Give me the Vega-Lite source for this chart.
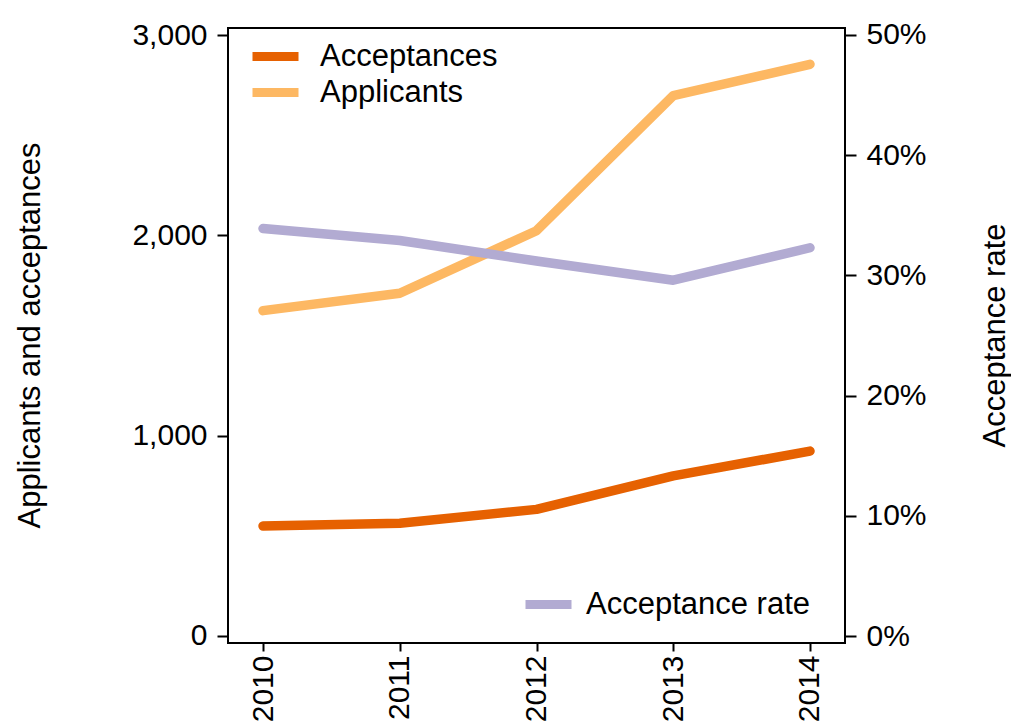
{
  "$schema": "https://vega.github.io/schema/vega-lite/v6.json",
  "autosize": "none",
  "width": 617,
  "height": 615,
  "padding": {"left": 228, "top": 28, "right": 166, "bottom": 82},
  "background": "white",
  "config": {
    "font": "Liberation Sans",
    "view": {"stroke": "black", "strokeWidth": 2},
    "axis": {
      "grid": false,
      "domain": false,
      "tickColor": "black",
      "tickWidth": 2,
      "labelColor": "black",
      "titleColor": "black",
      "labelFont": "Liberation Sans",
      "titleFont": "Liberation Sans",
      "labelFontSize": 30,
      "titleFontSize": 31,
      "titleFontWeight": "normal"
    },
    "legend": {
      "labelFont": "Liberation Sans",
      "labelFontSize": 31,
      "labelColor": "black",
      "labelLimit": 400,
      "symbolType": "stroke",
      "symbolSize": 2116,
      "symbolStrokeWidth": 9,
      "labelOffset": 13,
      "padding": 0
    }
  },
  "data": {
    "values": [
      {"year": "2010", "acceptances": 549, "applicants": 1624, "rate": 0.339},
      {"year": "2011", "acceptances": 563, "applicants": 1711, "rate": 0.329},
      {"year": "2012", "acceptances": 632, "applicants": 2023, "rate": 0.312},
      {"year": "2013", "acceptances": 799, "applicants": 2697, "rate": 0.296},
      {"year": "2014", "acceptances": 923, "applicants": 2854, "rate": 0.323}
    ]
  },
  "encoding": {
    "x": {
      "field": "year",
      "type": "ordinal",
      "scale": {"type": "point", "padding": 0.256},
      "axis": {
        "title": null,
        "labelAngle": -90,
        "tickSize": 8,
        "labelPadding": 4,
        "labelAlign": "right",
        "labelBaseline": "middle"
      }
    }
  },
  "layer": [
    {
      "layer": [
        {
          "mark": {"type": "line", "strokeWidth": 9.5, "strokeCap": "round", "strokeJoin": "round"},
          "encoding": {
            "y": {
              "field": "applicants",
              "type": "quantitative",
              "scale": {"domain": [-35, 3035], "nice": false, "zero": false},
              "axis": {
                "title": "Applicants and acceptances",
                "values": [0, 1000, 2000, 3000],
                "format": ",.0f",
                "tickSize": 11,
                "labelPadding": 10,
                "titleAngle": 270,
                "titleBaseline": "middle",
                "titleX": -198,
                "titleY": 307
              }
            },
            "color": {
              "datum": "Applicants",
              "type": "nominal",
              "scale": {"domain": ["Applicants"], "range": ["#fdb863"]},
              "legend": {"title": null, "orient": "none", "legendX": 20, "legendY": 37, "labelOffset": 17}
            }
          }
        },
        {
          "mark": {"type": "line", "strokeWidth": 9.5, "strokeCap": "round", "strokeJoin": "round"},
          "encoding": {
            "y": {"field": "acceptances", "type": "quantitative"},
            "color": {
              "datum": "Acceptances",
              "type": "nominal",
              "scale": {"domain": ["Acceptances"], "range": ["#e66101"]},
              "legend": {"title": null, "orient": "none", "legendX": 20, "legendY": 1, "labelOffset": 17}
            }
          }
        }
      ],
      "resolve": {"scale": {"color": "independent"}, "legend": {"color": "independent"}}
    },
    {
      "mark": {"type": "line", "strokeWidth": 9.5, "strokeCap": "round", "strokeJoin": "round"},
      "encoding": {
        "y": {
          "field": "rate",
          "type": "quantitative",
          "scale": {"domain": [-0.00582, 0.50582], "nice": false, "zero": false},
          "axis": {
            "orient": "right",
            "title": "Acceptance rate",
            "values": [0, 0.1, 0.2, 0.3, 0.4, 0.5],
            "format": ".0%",
            "tickSize": 11,
            "labelPadding": 10,
            "titleAngle": 270,
            "titleBaseline": "middle",
            "titleX": 150,
            "titleY": 307
          }
        },
        "color": {
          "datum": "Acceptance rate",
          "type": "nominal",
          "scale": {"domain": ["Acceptance rate"], "range": ["#b2abd2"]},
          "legend": {"title": null, "orient": "none", "legendX": 293, "legendY": 549, "labelOffset": 10}
        }
      }
    }
  ],
  "resolve": {"scale": {"y": "independent", "color": "independent"}, "legend": {"color": "independent"}}
}
